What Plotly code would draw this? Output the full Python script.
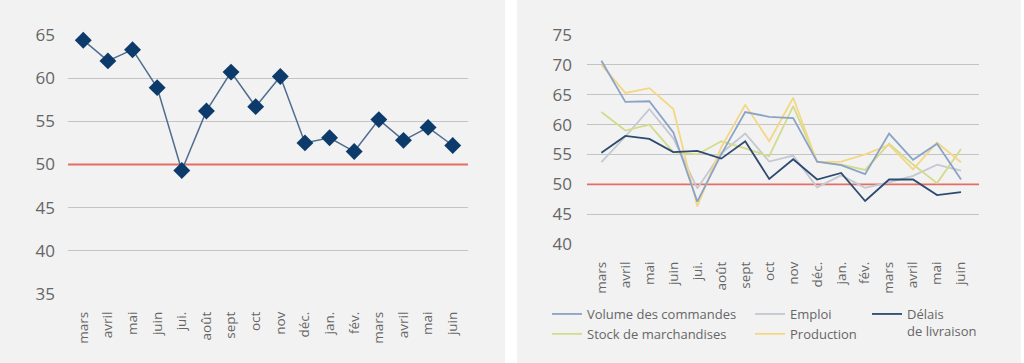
import plotly.graph_objects as go

months = ["mars", "avril", "mai", "juin", "jui.", "août", "sept", "oct", "nov",
          "déc.", "jan.", "fév.", "mars", "avril", "mai", "juin"]
idx = list(range(len(months)))

pmi = [64.4, 62.0, 63.3, 58.9, 49.3, 56.2, 60.7, 56.7, 60.2, 52.5, 53.1, 51.5, 55.2, 52.8, 54.3, 52.2]

volume = [70.7, 63.8, 63.9, 58.7, 47.1, 55.0, 62.1, 61.3, 61.1, 53.8, 53.2, 51.7, 58.5, 54.1, 56.8, 50.8]
emploi = [53.7, 58.0, 62.6, 57.7, 49.3, 55.2, 58.5, 53.8, 54.8, 49.5, 51.5, 49.4, 50.3, 51.4, 53.3, 52.3]
delais = [55.3, 58.1, 57.6, 55.4, 55.6, 54.3, 57.2, 50.9, 54.2, 50.8, 51.9, 47.2, 50.8, 50.8, 48.2, 48.7]
stock = [62.1, 59.0, 60.0, 55.4, 55.0, 57.2, 56.0, 54.7, 63.1, 53.8, 53.3, 52.4, 56.8, 53.3, 50.2, 55.9]
production = [70.0, 65.3, 66.1, 62.6, 46.3, 56.2, 63.3, 57.2, 64.5, 53.7, 53.8, 55.0, 56.6, 52.5, 57.0, 53.7]

left_ticks = [35, 40, 45, 50, 55, 60, 65]
right_ticks = [40, 45, 50, 55, 60, 65, 70, 75]
threshold = 50

W, H = 1024, 363
FONT = "Open Sans"
TXT = "#666666"
GRID = "#c4c4c4"
PANEL = "#f2f2f2"
RED = "#e36f64"

XR_LEFT = [-0.62, 15.62]
XR_RIGHT = [-0.6, 15.75]

fig = go.Figure()

# Left chart
fig.add_trace(go.Scatter(
    x=idx, y=pmi, mode="lines+markers", xaxis="x", yaxis="y",
    line=dict(color="#4f6d8f", width=1.5),
    marker=dict(symbol="diamond", size=13, color="#0c3b6b"),
    showlegend=False, cliponaxis=False))

# Right chart
series = [
    ("Emploi", emploi, "#c3c8d2", "legend2"),
    ("Stock de marchandises", stock, "#d3db8c", "legend"),
    ("Production", production, "#f4d784", "legend2"),
    ("Volume des commandes", volume, "#8aa3c6", "legend"),
    ("Délais<br>de livraison", delais, "#2d4a70", "legend3"),
]
for name, vals, col, lg in series:
    fig.add_trace(go.Scatter(
        x=idx, y=vals, mode="lines", name=name, xaxis="x2", yaxis="y2",
        line=dict(color=col, width=1.8), legend=lg, cliponaxis=False))

def px_x(p):
    return p / W

def px_y(p):
    return 1 - p / H

tickfont_y = dict(family=FONT, size=17, color=TXT)
tickfont_x = dict(family=FONT, size=13.5, color=TXT)
legfont = dict(family=FONT, size=13, color=TXT)

fig.update_layout(
    width=W, height=H, autosize=False,
    margin=dict(l=0, r=0, t=0, b=0, pad=0),
    paper_bgcolor="white", plot_bgcolor="rgba(0,0,0,0)",
    font=dict(family=FONT, color=TXT),
    xaxis=dict(domain=[px_x(68), px_x(468)], range=XR_LEFT, automargin=False,
               tickvals=idx, ticktext=months, tickangle=-90, showgrid=False,
               showline=False, zeroline=False, ticks="",
               ticklabelstandoff=14, tickfont=tickfont_x, anchor="y"),
    yaxis=dict(domain=[px_y(294), px_y(35)], range=[35, 65], automargin=False,
               tickvals=left_ticks, showline=False, zeroline=False,
               gridcolor=GRID, gridwidth=1, anchor="x",
               ticklabelstandoff=12, tickfont=tickfont_y),
    xaxis2=dict(domain=[px_x(587), px_x(979)], range=XR_RIGHT, automargin=False,
                tickvals=idx, ticktext=months, tickangle=-90, showgrid=False,
                showline=False, zeroline=False, ticks="",
                ticklabelstandoff=14, tickfont=tickfont_x, anchor="y2"),
    yaxis2=dict(domain=[px_y(244), px_y(35)], range=[40, 75], automargin=False,
                tickvals=right_ticks, showline=False, zeroline=False,
                gridcolor=GRID, gridwidth=1, anchor="x2",
                ticklabelstandoff=14, tickfont=tickfont_y),
    legend=dict(x=px_x(547), y=px_y(299), xanchor="left", yanchor="top",
                bgcolor="rgba(0,0,0,0)", tracegroupgap=0, traceorder="reversed",
                font=legfont),
    legend2=dict(x=px_x(750), y=px_y(299), xanchor="left", yanchor="top",
                 bgcolor="rgba(0,0,0,0)", tracegroupgap=0, traceorder="normal",
                 font=legfont),
    legend3=dict(x=px_x(867), y=px_y(299), xanchor="left", yanchor="top",
                 bgcolor="rgba(0,0,0,0)", valign="top", font=legfont),
    shapes=[
        dict(type="rect", xref="paper", yref="paper", x0=0, x1=px_x(505), y0=0, y1=1,
             fillcolor=PANEL, line=dict(width=0), layer="below"),
        dict(type="rect", xref="paper", yref="paper", x0=px_x(517), x1=px_x(1021), y0=0, y1=1,
             fillcolor=PANEL, line=dict(width=0), layer="below"),
        dict(type="line", xref="x", yref="y", x0=XR_LEFT[0], x1=XR_LEFT[1],
             y0=threshold, y1=threshold, line=dict(color=RED, width=1.8), layer="between"),
        dict(type="line", xref="x2", yref="y2", x0=XR_RIGHT[0], x1=XR_RIGHT[1],
             y0=threshold, y1=threshold, line=dict(color=RED, width=1.8), layer="between"),
    ],
)

fig.write_html(
    "out.html",
    config={"displayModeBar": False},
    post_script="document.body.style.margin='0';document.body.style.overflow='hidden';",
)
